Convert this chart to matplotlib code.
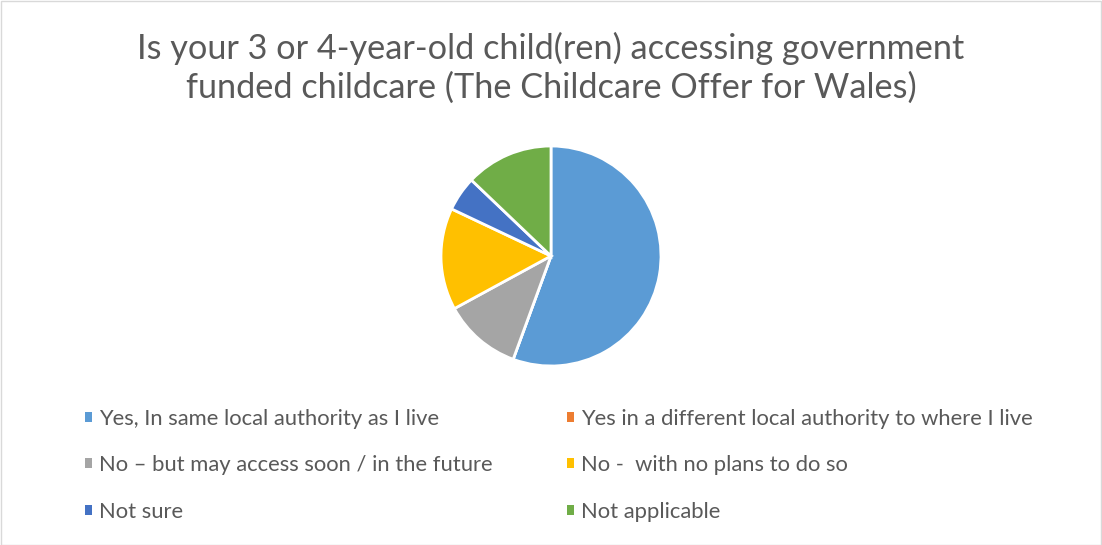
import matplotlib.pyplot as plt
from matplotlib.patches import Rectangle

# donnees (en %)
labels = ["Yes, In same local authority as I live",
          "Yes in a different local authority to where I live",
          "No \u2013 but may access soon / in the future",
          "No -  with no plans to do so",
          "Not sure",
          "Not applicable"]
values = [55.7, 0.0, 11.5, 15.0, 5.1, 12.9]
colors = ["#5B9BD5", "#ED7D31", "#A5A5A5", "#FFC000", "#4472C4", "#70AD47"]

title = "Is your 3 or 4-year-old child(ren) accessing government\nfunded childcare (The Childcare Offer for Wales)"

plt.rcParams['font.family'] = ['Lato', 'DejaVu Sans']

W, H = 1102, 545
fig = plt.figure(figsize=(W / 100, H / 100), dpi=100)
fig.patches.append(Rectangle((0.5 / W, 0.5 / H), 1 - 1.5 / W, 1 - 1.5 / H,
                             transform=fig.transFigure, fill=False,
                             edgecolor="#D9D9D9", linewidth=1))

# axe du camembert : centre (550, 256), rayon 110 px
cx, cy, r = 551, 256, 110
ax = fig.add_axes([(cx - r) / W, (H - cy - r) / H, 2 * r / W, 2 * r / H])
wedges, _ = ax.pie(values, colors=colors, startangle=90, counterclock=False,
                   radius=1, wedgeprops=dict(edgecolor="white", linewidth=2))
ax.set_xlim(-1, 1)
ax.set_ylim(-1, 1)
ax.set_aspect('equal')
ax.axis('off')

fig.text(0.5, 1 - 68 / H, title, ha='center', va='center', fontsize=24.7,
         color="#595959", linespacing=1.25)

# legende en lignes : reordonner pour ncol=2
order = [0, 2, 4, 1, 3, 5]
leg = fig.legend([wedges[i] for i in order], [labels[i] for i in order],
                 ncol=2, loc='upper left', bbox_to_anchor=(85 / W, 1 - 409 / H),
                 frameon=False, fontsize=15.8, labelcolor="#595959",
                 borderaxespad=0, borderpad=0,
                 handlelength=0.33, handleheight=0.33, handletextpad=0.3,
                 columnspacing=3.4, labelspacing=1.2)
for h in leg.legend_handles:
    h.set_edgecolor('none')

fig.savefig("out.png", dpi=100)
